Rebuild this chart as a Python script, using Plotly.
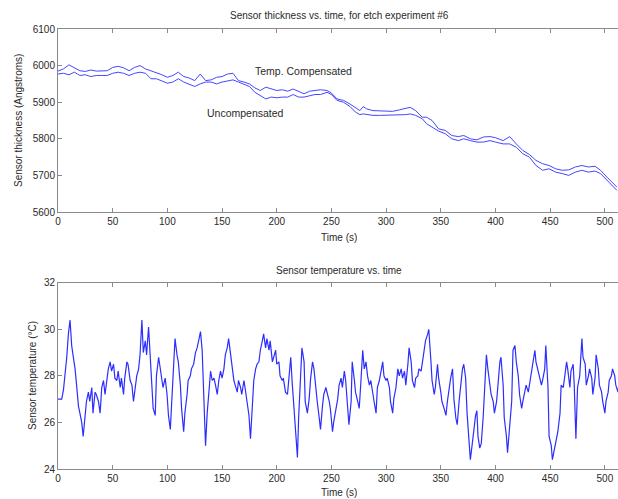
import plotly.graph_objects as go

# ---------------- data ----------------
t_thick = [0, 5, 10, 15, 20, 25, 30, 35, 40, 45, 50, 55, 60, 65, 70, 75, 80, 85, 90, 95,
           100, 105, 110, 115, 120, 125, 130, 135, 140, 145, 150, 155, 160, 165, 170, 175,
           180, 185, 190, 195, 200, 205, 210, 215, 220, 225, 230, 235, 240, 246, 250, 255,
           261, 267, 272, 276, 279, 282, 288, 294, 300, 306, 312, 318, 322, 327, 333, 337,
           342, 348, 354, 360, 366, 371, 377, 383, 389, 395, 400, 407, 413, 419, 425, 431,
           437, 443, 449, 455, 461, 467, 473, 479, 485, 491, 496, 502, 506, 511]
thick_comp = [5985, 5991, 6002, 5995, 5986, 5984, 5988, 5985, 5985, 5986, 5995, 5998, 5994,
              5986, 5995, 6000, 5991, 5986, 5982, 5975, 5968, 5973, 5982, 5970, 5966, 5959,
              5977, 5959, 5961, 5968, 5970, 5977, 5979, 5959, 5955, 5950, 5939, 5932, 5941,
              5936, 5932, 5934, 5930, 5936, 5930, 5923, 5930, 5932, 5934, 5932, 5925, 5909,
              5905, 5895, 5885, 5877, 5888, 5882, 5877, 5877, 5877, 5875, 5879, 5882, 5886,
              5877, 5859, 5859, 5850, 5827, 5823, 5809, 5806, 5809, 5800, 5797, 5805, 5806,
              5803, 5795, 5806, 5786, 5768, 5757, 5741, 5732, 5727, 5718, 5714, 5715, 5723,
              5727, 5723, 5725, 5714, 5695, 5682, 5668]
thick_uncomp = [5977, 5979, 5975, 5982, 5973, 5975, 5970, 5973, 5973, 5973, 5979, 5982, 5979,
                5973, 5979, 5982, 5979, 5964, 5964, 5959, 5952, 5955, 5964, 5955, 5950, 5943,
                5950, 5955, 5955, 5950, 5955, 5957, 5961, 5955, 5948, 5943, 5927, 5918, 5909,
                5914, 5912, 5914, 5914, 5921, 5914, 5914, 5918, 5921, 5921, 5927, 5921, 5905,
                5900, 5888, 5873, 5866, 5868, 5866, 5864, 5864, 5864, 5864, 5864, 5866, 5868,
                5864, 5855, 5841, 5832, 5821, 5814, 5800, 5795, 5800, 5795, 5791, 5791, 5795,
                5791, 5786, 5786, 5777, 5759, 5750, 5727, 5714, 5718, 5709, 5705, 5700, 5709,
                5714, 5709, 5712, 5705, 5686, 5673, 5659]

t_temp = [0, 3.4, 5, 6.4, 8, 9.5, 11, 12.5, 14, 15.6, 17, 18.7, 20, 21.7, 23, 24.8, 26, 27.8,
          29, 30.9, 32, 33.9, 35, 37, 38.5, 40, 41.6, 43, 44.6, 46, 47.7, 49, 50.8, 52, 53.8,
          55, 56.9, 58, 59.9, 61, 63, 64, 66, 67.6, 69, 70.6, 72, 73.7, 75, 76.7, 78, 79.8,
          81, 82.8, 84, 85.9, 87, 88.9, 90, 92, 93, 95, 96, 98, 99.7, 101, 102.7, 104, 105.8,
          107, 108.8, 110, 111.9, 113, 114.9, 116, 118, 119, 121, 122, 124,
          125.7, 127.2, 128.7, 130.3, 131.8, 133.4, 134.9, 136.4, 138, 139.5, 141, 142.6, 144,
          145.6, 147, 148.6, 150, 151.7, 153, 154.7, 156, 157.8, 159, 160.8, 162, 163.9, 165,
          166.9, 168, 170, 171, 173, 174.6, 176, 177.6, 179, 180.7, 182, 183.7, 185, 186.8,
          188, 189.8, 191, 192.9, 194, 196, 197, 199, 200, 202, 203, 205, 206, 208, 209.8,
          211, 212.8, 214, 215.9, 217, 218.9, 220, 222, 223, 225, 226, 228, 229.6, 231, 232.7,
          234, 235.7, 237, 238.8, 240, 241.8, 243, 244.9, 246, 248, 249, 251, 252,
          254, 255.7, 257, 258.8, 260, 261.8, 263, 265, 266, 268, 269, 271, 272, 274, 275.4,
          277, 278.6, 280, 281.6, 283, 284.7, 286, 287.7, 289, 290.8, 292, 293.8, 295, 296.9,
          298, 299.9, 301, 303, 304, 306, 307, 309, 310.7, 312, 313.8, 315, 316.8, 318, 319.9,
          321, 322.9, 324, 326, 327, 329, 330, 332, 333, 335, 336, 338, 339, 341, 342, 344,
          345, 347, 348, 350, 351, 353, 354.7, 356, 357.7, 359, 360.7, 362, 363.7, 365, 366.7,
          368, 369.8, 371, 372.7, 374, 375.8, 377, 378.8, 380, 381.8,
          383, 384, 385.6, 387, 388.7, 390, 391.7, 393, 394.8, 396, 397.9, 399, 401, 402, 404,
          405, 407, 408, 410, 411, 413, 414.8, 416, 417.8, 419, 420.8, 422, 423.9, 425, 427,
          428, 430, 431, 433, 434, 436, 437, 439, 440, 442, 443, 445, 446, 448, 449, 451, 452,
          454, 455, 457, 459, 460, 462, 463, 465, 466, 468, 469, 471, 472, 473.5, 475, 477,
          479, 480, 482, 483, 485, 486, 488, 489, 491, 492, 494, 495, 497, 498, 500, 501, 503,
          504, 506, 507, 509, 510, 512, 513]
temp = [27.0, 27.0, 27.4, 28.0, 28.8, 29.8, 30.4, 29.3, 28.9, 28.3, 27.6, 26.7, 26.4, 26.0,
        25.4, 26.3, 26.9, 27.3, 26.9, 27.5, 26.4, 27.3, 27.2, 26.9, 26.4, 27.5, 27.8, 27.2,
        27.9, 28.3, 28.6, 28.2, 28.5, 27.9, 27.8, 28.2, 27.5, 27.9, 27.2, 27.9, 28.6, 28.5,
        27.8, 27.6, 26.9, 27.6, 28.0, 28.3, 28.9, 30.4, 29.0, 29.5, 28.9, 30.1, 29.0, 27.6,
        26.6, 26.3, 28.0, 28.8, 28.5, 27.8, 27.5, 27.9, 27.2, 26.3, 25.7, 26.9, 28.3, 29.6,
        28.9, 28.6, 27.6, 26.6, 25.6, 26.4, 27.2, 27.8, 28.0, 28.3, 28.5,
        29.0, 29.2, 29.6, 29.9, 29.1, 26.4, 25.0, 26.4, 27.5, 28.2, 27.8, 27.9, 27.6,
        27.2, 27.8, 28.2, 27.9, 28.3, 28.9, 29.2, 29.6, 28.9, 28.3, 27.8, 27.6, 27.3, 27.8,
        27.5, 27.2, 27.8, 27.5, 26.9, 26.3, 25.3, 27.0, 27.8, 28.3, 28.5, 28.6, 29.1, 29.5,
        29.8, 29.2, 29.6, 29.1, 29.5, 28.6, 28.8, 29.1, 28.5, 28.6, 28.0, 27.8, 27.9, 27.3, 27.2,
        28.0, 28.8, 27.8, 26.4, 25.4, 24.5, 26.2, 28.0, 29.2, 28.6, 26.9, 26.4, 27.0, 27.9, 28.6,
        28.3, 27.3, 26.9, 26.2, 25.7, 26.7, 27.2, 27.5, 27.3, 26.9, 26.6, 25.6, 26.0,
        26.5, 27.0, 27.6, 27.9, 27.5, 28.2, 27.8, 26.4, 25.9, 26.9, 28.6, 27.8, 27.3, 26.9, 26.6,
        27.8, 29.1, 28.3, 28.6, 28.0, 27.6, 27.8, 27.2, 26.9, 26.4, 27.5, 27.8, 28.2, 28.6,
        28.0, 27.8, 27.9, 27.5, 26.9, 26.4, 27.0, 27.5, 28.3, 28.0, 28.3, 27.9, 28.2, 27.6, 28.5,
        29.2, 28.6, 27.8, 27.5, 27.9, 28.0, 28.3, 28.2, 28.5, 29.1, 29.5, 29.8, 30.0, 28.6, 27.8, 27.2,
        27.5, 28.5, 27.9, 27.3, 26.9, 26.6, 26.3, 26.9, 27.5, 27.9, 28.3, 27.0, 26.2, 25.9, 26.9,
        27.6, 28.3, 28.5, 27.9, 26.4, 25.4, 24.4, 25.1, 25.7, 26.3,
        26.5, 25.4, 24.9, 25.1, 26.2, 27.6, 28.9, 28.3, 27.5, 27.2, 26.9, 26.4, 26.9, 27.6, 28.6,
        28.8, 27.6, 26.2, 25.4, 24.7, 25.9, 26.9, 29.1, 29.3, 28.6, 28.0, 27.2, 26.6, 26.9, 27.5,
        27.6, 27.3, 27.6, 28.0, 28.3, 29.1, 28.6, 28.2, 27.9, 27.6, 27.8, 28.3, 29.3, 27.5, 25.4, 25.0, 24.4,
        24.9, 25.1, 25.6, 26.4, 27.6, 27.5, 27.8, 28.6, 28.3, 27.5, 28.2, 28.5, 27.6, 25.3, 27.5, 28.0,
        29.6, 28.8, 28.5, 27.6, 28.0, 28.3, 27.9, 27.2, 27.9, 28.9, 28.3, 27.6, 27.3, 26.9, 26.4, 26.9, 27.3,
        27.8, 28.0, 28.3, 28.0, 27.6, 27.3, 27.8]

x_ticks = [0, 50, 100, 150, 200, 250, 300, 350, 400, 450, 500]
thick_ticks = [5600, 5700, 5800, 5900, 6000, 6100]
temp_ticks = [24, 26, 28, 30, 32]

top_title = "Sensor thickness vs. time, for etch experiment #6"
bot_title = "Sensor temperature vs. time"
x_label = "Time (s)"
top_ylabel = "Sensor thickness (Angstroms)"
bot_ylabel = "Sensor temperature (°C)"
label_comp = "Temp. Compensated"
label_uncomp = "Uncompensated"

# ---------------- figure ----------------
W, H = 618, 499
ML, MR, MT, MB = 58, 0, 29, 30
FONT = "Liberation Sans, Arial, Helvetica, sans-serif"
LINE_TOP = "rgb(70,70,255)"
LINE_BOT = "rgb(45,45,255)"
AX = "#8a8a8a"
TXT = "#2a2a2a"
XR = [0, 512]

def px(x):
    return (x - ML) / (W - ML - MR)

def py(y):
    return (H - MB - y) / (H - MT - MB)

fig = go.Figure()
fig.add_trace(go.Scatter(x=t_thick, y=thick_comp, mode="lines",
                         line=dict(color=LINE_TOP, width=1), xaxis="x", yaxis="y"))
fig.add_trace(go.Scatter(x=t_thick, y=thick_uncomp, mode="lines",
                         line=dict(color=LINE_TOP, width=1), xaxis="x", yaxis="y"))
fig.add_trace(go.Scatter(x=t_temp, y=temp, mode="lines",
                         line=dict(color=LINE_BOT, width=1.2), xaxis="x2", yaxis="y2"))

top_dom = [py(212), 1.0]
bot_dom = [0.0, py(282.7)]

xcommon = dict(range=XR, tickvals=x_ticks, ticks="inside", ticklen=4, tickcolor=AX,
               showline=True, linecolor=AX, linewidth=1, mirror="ticks", showgrid=False,
               zeroline=False, tickfont=dict(family=FONT, size=10, color=TXT))
ycommon = dict(ticks="inside", ticklen=4, tickcolor=AX, showline=True, linecolor=AX,
               linewidth=1, showgrid=False, zeroline=False,
               tickfont=dict(family=FONT, size=10, color=TXT))

fig.update_layout(
    width=W, height=H, margin=dict(l=ML, r=MR, t=MT, b=MB),
    paper_bgcolor="white", plot_bgcolor="white", showlegend=False,
    xaxis=dict(domain=[0, 1], anchor="y", **xcommon),
    yaxis=dict(domain=top_dom, anchor="x", range=[5600, 6100], tickvals=thick_ticks, **ycommon),
    xaxis2=dict(domain=[0, 1], anchor="y2", **xcommon),
    yaxis2=dict(domain=bot_dom, anchor="x2", range=[24, 32], tickvals=temp_ticks, **ycommon),
    yaxis3=dict(overlaying="y", anchor="x", side="right", range=[5600, 6100],
                tickvals=thick_ticks, ticks="inside", ticklen=4, tickcolor=AX,
                showticklabels=False, showline=False, showgrid=False, zeroline=False),
    yaxis4=dict(overlaying="y2", anchor="x2", side="right", range=[24, 32],
                tickvals=temp_ticks, ticks="inside", ticklen=4, tickcolor=AX,
                showticklabels=False, showline=False, showgrid=False, zeroline=False),
)

ann = []
def txt(text, x, y, size=10, angle=0):
    ann.append(dict(text=text, x=px(x), y=py(y), xref="paper", yref="paper",
                    showarrow=False, textangle=angle, xanchor="center", yanchor="middle",
                    font=dict(family=FONT, size=size, color=TXT)))

txt(top_title, 339, 15)
txt(bot_title, 339, 270.5)
txt(x_label, 339, 237.5)
txt(x_label, 339, 492.5)
txt(top_ylabel, 18, 121, angle=-90)
txt(bot_ylabel, 32, 376, angle=-90)
txt(label_comp, 303.5, 71, size=10.5)
txt(label_uncomp, 245, 113, size=10.5)
fig.update_layout(annotations=ann)

fig.write_html("out.html")
